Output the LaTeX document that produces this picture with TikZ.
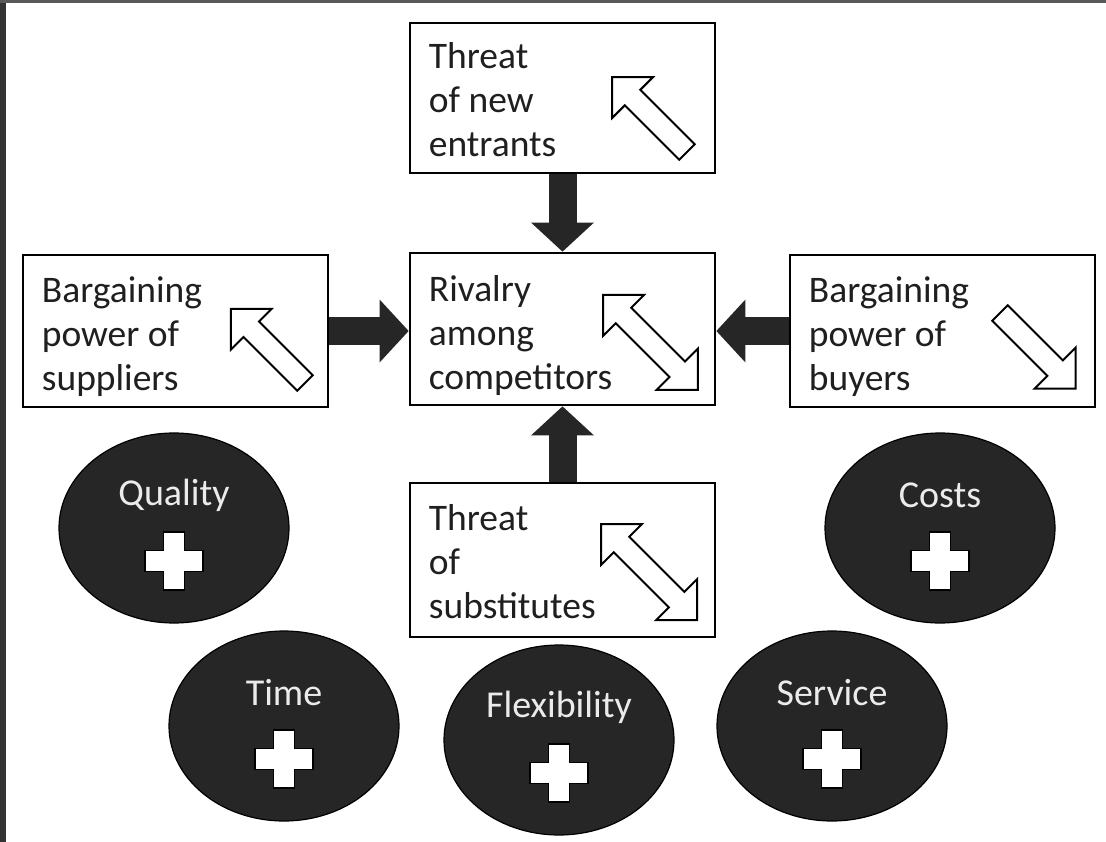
\documentclass[tikz,border=0pt]{standalone}
\usepackage{fontspec}
\setmainfont{Carlito}
\usetikzlibrary{shapes.geometric,arrows.meta,calc}
\definecolor{dark}{HTML}{262626}
\begin{document}
\begin{tikzpicture}[x=1pt,y=-1pt,
 box/.style={draw=black, line width=2.6pt, minimum width=305pt, minimum height=152pt, inner sep=0pt},
 lbl/.style={font=\fontsize{37.5pt}{44pt}\selectfont, text=black!88, align=left, inner sep=0pt, anchor=north west},
 oval/.style={ellipse, draw=black, line width=1.2pt, fill=dark, minimum width=230pt, minimum height=190pt, inner sep=0pt},
 olbl/.style={font=\fontsize{38pt}{40pt}\selectfont, text=white!92!black, inner sep=0pt},
 fat/.style={draw=dark, line width=28pt, -{Triangle[width=61pt,length=29pt]}},
 hol/.style={draw=black, fill=white, line width=2pt, line join=miter},
 pics/harrow/.style={code={\draw[hol] (0,-11) -- (#1-29,-11) -- (#1-29,-29) -- (#1,0) -- (#1-29,29) -- (#1-29,11) -- (0,11) -- cycle;}},
 pics/darrow/.style={code={\draw[hol] (29,-11) -- (#1-29,-11) -- (#1-29,-29) -- (#1,0) -- (#1-29,29) -- (#1-29,11) -- (29,11) -- (29,29) -- (0,0) -- (29,-29) -- cycle;}},
 pics/cross/.style={code={\draw[fill=white, draw=black, line width=1.5pt] (-10.5,-29) -- (10.5,-29) -- (10.5,-10.5) -- (29,-10.5) -- (29,10.5) -- (10.5,10.5) -- (10.5,29) -- (-10.5,29) -- (-10.5,10.5) -- (-29,10.5) -- (-29,-10.5) -- (-10.5,-10.5) -- cycle;}}
]
\useasboundingbox (0,0) rectangle (1106,842);
\fill[black!80] (0,0) rectangle (6,842);
\fill[black!65] (0,0) rectangle (1106,3);

% boxes
\node[box, minimum height=150pt] (top) at (562.5,98) {};
\node[box] (center) at (562.5,329) {};
\node[box] (left) at (175.5,331) {};
\node[box] (right) at (942.5,331) {};
\node[box, minimum height=154pt] (bottom) at (562.5,560) {};

% texts
\node[lbl] (topT) at ([xshift=20pt,yshift=-21pt]top.north west) {Threat\\of new\\entrants};
\node[lbl] (centerT) at ([xshift=20pt,yshift=-24pt]center.north west) {Rivalry\\among\\competitors};
\node[lbl] (leftT) at ([xshift=20pt,yshift=-23pt]left.north west) {Bargaining\\power of\\suppliers};
\node[lbl] (rightT) at ([xshift=20pt,yshift=-23pt]right.north west) {Bargaining\\power of\\buyers};
\node[lbl] (bottomT) at ([xshift=20pt,yshift=-23pt]bottom.north west) {Threat\\of\\substitutes};

% hollow arrows
\pic[rotate=135] at (687,152) {harrow=106};
\pic[rotate=135] at (305,383) {harrow=105};
\pic[rotate=-45] at (1000,313) {harrow=107};
\pic[rotate=-45] at (603,295) {darrow=134};
\pic[rotate=-45] at (601,524) {darrow=136};

% fat arrows
\draw[fat] (top.south) -- (center.north);
\draw[fat] (bottom.north) -- (center.south);
\draw[fat] (left.east) -- (left.east -| center.west);
\draw[fat] (right.west) -- (right.west -| center.east);

% ovals
\node[oval] (quality) at (174,528) {};
\node[oval] (costs) at (940,528) {};
\node[oval] (time) at (284,726) {};
\node[oval] (flex) at (559,740) {};
\node[oval] (service) at (832,726) {};
\foreach \n/\t in {quality/Quality, costs/Costs, time/Time, flex/Flexibility, service/Service}{
  \node[olbl] (\n T) at ([yshift=33pt]\n.center) {\t};
  \pic at ([yshift=-33pt]\n.center) {cross};
}
\end{tikzpicture}
\end{document}
